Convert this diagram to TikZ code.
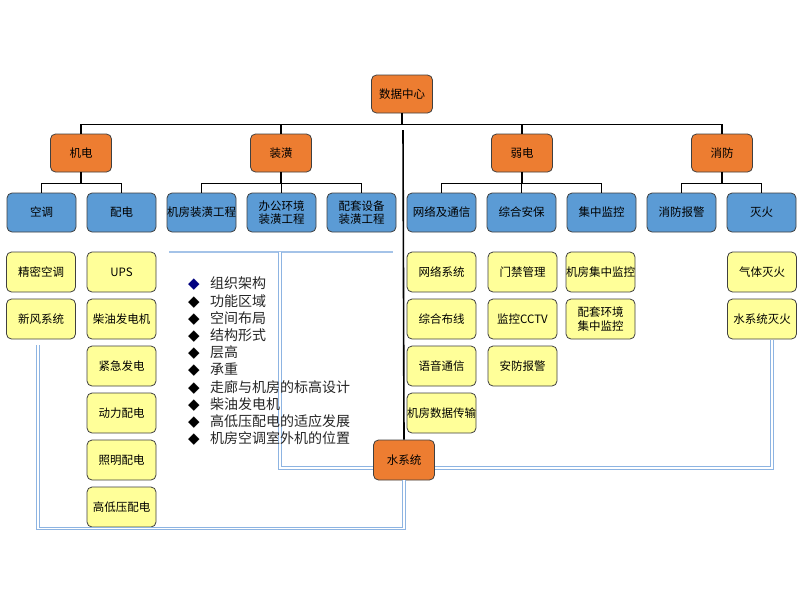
\documentclass[tikz,border=0pt]{standalone}
\usepackage{fontspec}
\setmainfont{Noto Sans CJK SC}
\newfontfamily\symf{DejaVu Sans}
\usetikzlibrary{calc}
\definecolor{orangec}{HTML}{ED7D31}
\definecolor{bluec}{HTML}{5B9BD5}
\definecolor{yellowc}{HTML}{FFFF99}
\definecolor{lblue}{HTML}{8DB4E2}
\definecolor{navyc}{HTML}{000080}
\definecolor{txtc}{HTML}{262626}
\begin{document}
\begin{tikzpicture}[x=1pt,y=-1pt,
  box/.style={draw=black!75, rounded corners=5pt, line width=0.8pt, align=center, inner sep=0pt, font=\fontsize{11.5}{13.5}\selectfont},
  org/.style={box, fill=orangec, minimum width=61pt, minimum height=38pt},
  blu/.style={box, fill=bluec, minimum width=69pt, minimum height=39pt},
  yel/.style={box, fill=yellowc, minimum width=69pt, minimum height=40pt},
  conn/.style={line width=1.6pt, black},
  dbl/.style={draw=lblue, double=white, double distance=1.1pt, line width=1.1pt},
  sgl/.style={draw=lblue!80, line width=1.6pt},
  bul/.style={anchor=west, inner sep=0pt, text=txtc, font=\fontsize{14}{16}\selectfont}]
\useasboundingbox (0,0) rectangle (800,600);
\fill[white] (0,0) rectangle (800,600);

\coordinate (t1) at (169,252);
\coordinate (t2) at (393,252);
\coordinate (lv) at (280,252);
\coordinate (rv) at (772,339.5);
\coordinate (bl) at (38,345);
\coordinate (vt) at (403,130);

% level 0
\node[org] (root) at (402,94) {数据中心};
% level 1
\node[org] (jd) at (81,153) {机电};
\node[org] (zx) at (281,153) {装潢};
\node[org] (rd) at (522,153) {弱电};
\node[org] (xf) at (722,153) {消防};
% level 2
\node[blu] (ky) at (41.5,212.5) {空调};
\node[blu] (pd) at (121.5,212.5) {配电};
\node[blu] (jf) at (201.5,212.5) {机房装潢工程};
\node[blu] (bg) at (281.5,212.5) {办公环境\\装潢工程};
\node[blu] (pt) at (361.5,212.5) {配套设备\\装潢工程};
\node[blu] (wl) at (441.5,212.5) {网络及通信};
\node[blu] (za) at (521.5,212.5) {综合安保};
\node[blu] (jk) at (601.5,212.5) {集中监控};
\node[blu] (xb) at (681.5,212.5) {消防报警};
\node[blu] (mh) at (761.5,212.5) {灭火};

% yellow items
\node[yel] (y11) at (41,272) {精密空调};
\node[yel] (y12) at (41,319) {新风系统};
\node[yel] (y21) at (121.5,272) {UPS};
\node[yel] (y22) at (121.5,319) {柴油发电机};
\node[yel] (y23) at (121.5,366) {紧急发电};
\node[yel] (y24) at (121.5,413) {动力配电};
\node[yel] (y25) at (121.5,460) {照明配电};
\node[yel] (y26) at (121.5,507) {高低压配电};
\node[yel] (y31) at (441.5,272) {网络系统};
\node[yel] (y32) at (441.5,319) {综合布线};
\node[yel] (y33) at (441.5,366) {语音通信};
\node[yel] (y34) at (441.5,413) {机房数据传输};
\node[yel] (y41) at (522.5,272) {门禁管理};
\node[yel] (y42) at (522.5,319) {监控CCTV};
\node[yel] (y43) at (522.5,366) {安防报警};
\node[yel] (y51) at (600.5,272) {机房集中监控};
\node[yel] (y52) at (600.5,319) {配套环境\\集中监控};
\node[yel] (y61) at (762,272) {气体灭火};
\node[yel] (y62) at (762,319) {水系统灭火};

\node[org, minimum height=40pt] (water) at (404,460) {水系统};

% tree connectors
\foreach \c in {jd,zx,rd,xf} \draw[conn] (root.south) -- ++(0,11) -| (\c.north);
\foreach \c in {ky,pd} \draw[conn] (jd.south) -- ++(0,11) -| (\c.north);
\foreach \c in {jf,bg,pt} \draw[conn] (zx.south) -- ++(0,11) -| (\c.north);
\foreach \c in {wl,za,jk} \draw[conn] (rd.south) -- ++(0,11) -| (\c.north);
\foreach \c in {xb,mh} \draw[conn] (xf.south) -- ++(0,11) -| (\c.north);
\draw[conn] (vt) -- (water.north);

% blue lines
\draw[sgl] (t1) -- (t2);
\draw[dbl] (lv) -- (lv |- {$(water.west)+(0,8)$}) -- ($(water.west)+(0,8)$);
\draw[dbl] ($(water.east)+(0,8)$) -- (rv |- {$(water.east)+(0,8)$}) -- (rv);
\coordinate (wb) at ($(water.south)+(0,48)$);
\draw[dbl] (water.south) -- (wb) -- (bl |- wb) -- (bl);

% bullet list
\foreach \t [count=\i] in {组织架构,功能区域,空间布局,结构形式,层高,承重,走廊与机房的标高设计,柴油发电机,高低压配电的适应发展,机房空调室外机的位置}{
  \ifnum\i=1 \def\bc{navyc}\else\def\bc{black}\fi
  \node[bul] (b\i) at (188,{284+17.2*(\i-1)}) {\makebox[22pt][l]{\textcolor{\bc}{\symf\fontsize{15}{16}\selectfont ◆}}\t};
}
\end{tikzpicture}
\end{document}
